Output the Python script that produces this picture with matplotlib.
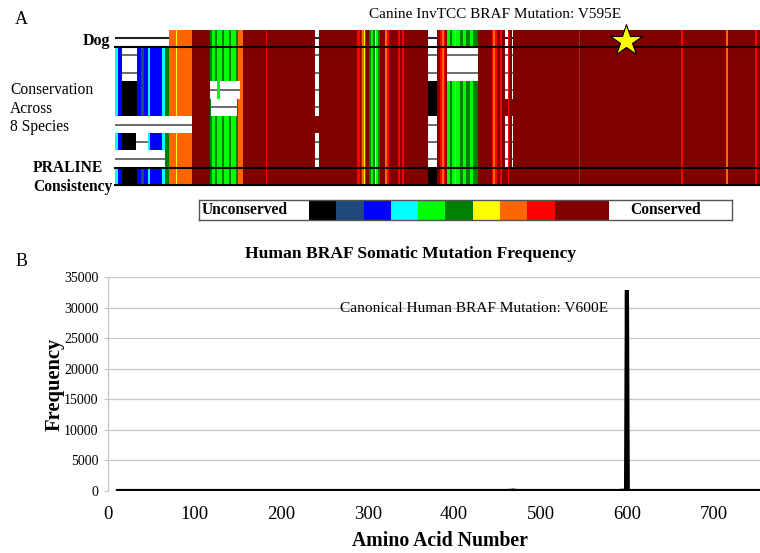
import numpy as np
import matplotlib
matplotlib.use('Agg')
import matplotlib.pyplot as plt
from matplotlib.colors import ListedColormap, BoundaryNorm

plt.rcParams['font.family'] = ['Liberation Serif', 'DejaVu Serif']

# ---------------- Panel A data: PRALINE conservation alignment ----------------
level_colors = ['#000000', '#1f497d', '#0000ff', '#00ffff', '#00ff00', '#008000',
                '#ffff00', '#ff6600', '#ff0000', '#800000', '#800000']
align_len = 645
n_rows = 9  # Dog, 7 other species, PRALINE consistency

seg_start = [0, 3, 7, 22, 26, 29, 33, 35, 47, 50, 54, 60.5, 62, 77,
             95, 97, 100, 102, 107, 109, 114, 116, 121, 123, 128,
             151, 152,
             242, 245, 246, 247, 248.5, 250, 251, 254, 256, 258, 259.5, 261, 263, 265,
             270, 272, 274, 283, 284.5, 287, 288.5,
             313, 322, 325, 327, 328.5, 330, 332, 335, 337, 340, 341, 345, 348, 351,
             355, 358, 363,
             377, 378, 379.5, 382, 385, 387, 393, 394,
             463.5, 465, 566, 567.5, 611, 612.5, 640, 641.5]
seg_level = [3, 2, 0, 2, 1, 2, 3, 2, 3, 5, 7, 6, 7, 9,
             5, 4, 5, 4, 5, 4, 5, 4, 5, 7, 9,
             8, 9,
             8, 9, 8, 7, 6, 8, 9, 5, 4, 5, 6, 4, 5, 9,
             7, 8, 9, 8, 9, 8, 9,
             0, 9, 8, 7, 8, 9, 4, 5, 4, 3, 4, 5, 4, 5,
             4, 5, 9,
             8, 7, 8, 9, 8, 9, 8, 9,
             8, 9, 8, 9, 7, 9, 8, 9]

gap_start = [0, 7, 21, 0, 0, 95, 105, 96, 200, 313, 332, 390, 397]
gap_end   = [54, 22, 33, 77, 50, 101.5, 125, 122, 204, 322, 363, 393, 398]
gap_rows  = [[0], [1, 2], [6], [5], [7], [3], [3], [4],
             [0, 1, 2, 3, 4, 6, 7], [0, 1, 2, 5, 6, 7], [1, 2],
             [0, 1, 2, 3, 5, 6, 7], [0, 1, 2, 3, 5, 6, 7]]
star_col = 511
level_names = ['Unconserved', 'Conserved']

# ---------------- Panel B data: human BRAF somatic mutations ----------------
aa_pos = [11, 463, 464, 465, 466, 467, 468, 469, 470, 471,
          592, 593, 594, 595, 596, 597, 598, 599, 600, 601, 602, 766]
freq = [0, 0, 40, 0, 50, 0, 0, 180, 0, 0,
        0, 0, 120, 0, 0, 60, 0, 0, 32900, 150, 0, 0]
y_ticks = [0, 5000, 10000, 15000, 20000, 25000, 30000, 35000]
x_ticks = [0, 100, 200, 300, 400, 500, 600, 700]

W, H = 760, 553
fig = plt.figure(figsize=(W / 100, H / 100), dpi=100)


def fx(x):
    return x / W


def fy(y):
    return 1 - y / H


# ---- heatmap axes ----
axA = fig.add_axes([fx(115), fy(185), (760 - 115) / W, (185 - 29.5) / H])
cmap = ListedColormap(level_colors)
norm = BoundaryNorm(np.arange(-0.5, 11.5, 1), cmap.N)
xedges = np.array(seg_start + [align_len], dtype=float)
C = np.tile(np.array(seg_level, dtype=float), (n_rows, 1))
axA.pcolormesh(xedges, np.arange(n_rows + 1), C, cmap=cmap, norm=norm,
               shading='flat', antialiased=False)
for s, e, rows in zip(gap_start, gap_end, gap_rows):
    for r in rows:
        axA.barh(r + 0.5, e - s, left=s, height=1, color='white', lw=0)
        axA.hlines(r + 0.5, s, e, color='#222222' if r == 0 else '#444444',
                   lw=1.5 if r == 0 else 1.1)
for yy in [1, 8, 9]:
    axA.axhline(yy, color='black', lw=1.5, clip_on=False)
axA.plot([star_col], [0.68], marker='*', ms=24, mfc='#ffff00', mec='black',
         mew=0.8, clip_on=False, zorder=5)
axA.set_xlim(0, align_len)
axA.set_ylim(n_rows, 0)
axA.axis('off')

fig.text(fx(21), fy(20), 'A', fontsize=13, ha='center', va='center')
fig.text(fx(495), fy(15), 'Canine InvTCC BRAF Mutation: V595E', fontsize=11,
         ha='center', va='center')
fig.text(fx(110), fy(41), 'Dog', fontsize=11.5, fontweight='bold', ha='right', va='center')
for i, t in enumerate(['Conservation', 'Across', '8 Species']):
    fig.text(fx(10), fy(90 + 18.7 * i), t, fontsize=11.2, ha='left', va='center')
fig.text(fx(33), fy(168), 'PRALINE', fontsize=11.2, fontweight='bold', ha='left', va='center')
fig.text(fx(33), fy(187), 'Consistency', fontsize=11.2, fontweight='bold', ha='left', va='center')

# ---- legend bar ----
axL = fig.add_axes([fx(199), fy(220), (732 - 199) / W, (220 - 199.5) / H])
axL.bar(np.arange(len(level_colors)), 1, width=1, align='edge', color=level_colors, lw=0)
axL.set_xlim(-4.03, 15.5)
axL.set_ylim(0, 1)
axL.set_xticks([])
axL.set_yticks([])
for sp in axL.spines.values():
    sp.set_color('#555555')
    sp.set_linewidth(1)
axL.text(-3.95, 0.5, level_names[0], fontsize=11.2, fontweight='bold', ha='left', va='center')
axL.text(13.05, 0.5, level_names[1], fontsize=11.2, fontweight='bold', ha='center', va='center')

# ---- panel B ----
axB = fig.add_axes([fx(108.4), fy(491), (760 - 108.4) / W, (491 - 277.3) / H])
axB.plot(aa_pos, freq, color='black', lw=3, solid_joinstyle='bevel', zorder=3)
axB.set_xlim(0, 754)
axB.set_ylim(0, 35000)
axB.set_yticks(y_ticks)
axB.set_xticks(x_ticks)
axB.yaxis.grid(True, color='#c6c6c6', lw=0.9)
axB.set_axisbelow(True)
for k in ['top', 'right', 'bottom']:
    axB.spines[k].set_visible(False)
axB.spines['left'].set_color('#c6c6c6')
axB.spines['left'].set_linewidth(0.9)
axB.tick_params(axis='y', length=3, color='#c6c6c6', labelsize=10, pad=4)
axB.tick_params(axis='x', length=0, labelsize=13.5, pad=11)
axB.set_ylabel('Frequency', fontsize=14.8, fontweight='bold')
axB.yaxis.set_label_coords(-0.0666, 0.50)
axB.set_xlabel('Amino Acid Number', fontsize=14.2, fontweight='bold')
axB.xaxis.set_label_coords(0.509, -0.187)
axB.text(578, 29900, 'Canonical Human BRAF Mutation: V600E', fontsize=11.1,
         ha='right', va='center')

fig.text(fx(22), fy(262), 'B', fontsize=13, ha='center', va='center')
fig.text(fx(411), fy(254), 'Human BRAF Somatic Mutation Frequency', fontsize=12.6,
         fontweight='bold', ha='center', va='center')

fig.savefig('out.png', dpi=100)
